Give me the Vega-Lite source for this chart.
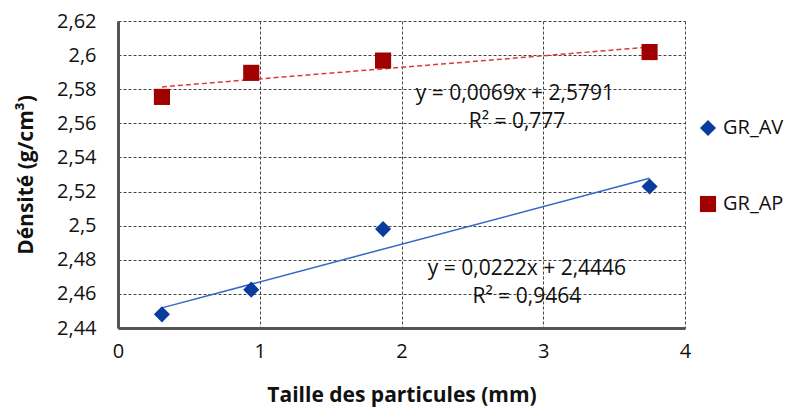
{
  "$schema": "https://vega.github.io/schema/vega-lite/v6.json",
  "width": 567,
  "height": 307,
  "autosize": {"type": "none"},
  "padding": {"left": 118, "top": 21, "right": 113, "bottom": 79},
  "background": "white",
  "config": {
    "view": {"stroke": null},
    "font": "Open Sans",
    "axis": {
      "labelFont": "Open Sans",
      "labelFontSize": 20,
      "labelColor": "#111",
      "labelOverlap": false,
      "labelFlush": false,
      "titleFont": "Open Sans",
      "titleFontSize": 21,
      "titleFontWeight": "bold",
      "titleColor": "#111",
      "grid": true,
      "gridColor": "#444",
      "gridDash": [3, 2],
      "gridWidth": 1,
      "gridOpacity": 1,
      "domainColor": "#555",
      "domainWidth": 3,
      "ticks": false
    }
  },
  "datasets": {
    "pts": [
      {"taille": 0.31, "densite": 2.448, "serie": "GR_AV"},
      {"taille": 0.94, "densite": 2.4625, "serie": "GR_AV"},
      {"taille": 1.87, "densite": 2.498, "serie": "GR_AV"},
      {"taille": 3.75, "densite": 2.523, "serie": "GR_AV"},
      {"taille": 0.31, "densite": 2.5755, "serie": "GR_AP"},
      {"taille": 0.94, "densite": 2.5896, "serie": "GR_AP"},
      {"taille": 1.87, "densite": 2.5968, "serie": "GR_AP"},
      {"taille": 3.75, "densite": 2.6018, "serie": "GR_AP"}
    ],
    "labels": [
      {"tx": 2.8, "ty": 2.5772, "txt": "y = 0,0069x + 2,5791"},
      {"tx": 2.815, "ty": 2.5608, "txt": "R² = 0,777"},
      {"tx": 2.885, "ty": 2.4746, "txt": "y = 0,0222x + 2,4446"},
      {"tx": 2.885, "ty": 2.4582, "txt": "R² = 0,9464"}
    ]
  },
  "layer": [
    {
      "data": {"name": "pts"},
      "transform": [
        {"filter": "datum.serie === 'GR_AV'"},
        {"regression": "densite", "on": "taille", "method": "linear", "extent": [0.31, 3.75]}
      ],
      "mark": {"type": "line", "color": "#3566C8", "strokeWidth": 1.5},
      "encoding": {
        "x": {"field": "taille", "type": "quantitative", "scale": {"domain": [0, 4], "nice": false, "zero": false},
          "axis": {"values": [0, 1, 2, 3, 4], "tickCount": 10, "format": "d", "title": "Taille des particules (mm)", "labelPadding": 13, "titlePadding": 23}},
        "y": {"field": "densite", "type": "quantitative", "scale": {"domain": [2.44, 2.62], "nice": false, "zero": false},
          "axis": {"values": [2.44, 2.46, 2.48, 2.5, 2.52, 2.54, 2.56, 2.58, 2.6, 2.62], "tickCount": 20, "title": "Dénsité (g/cm³)",
            "labelExpr": "replace(format(datum.value, '.2~f'), '.', ',')", "labelPadding": 22, "titlePadding": 20}}
      }
    },
    {
      "data": {"name": "pts"},
      "transform": [
        {"filter": "datum.serie === 'GR_AP'"},
        {"regression": "densite", "on": "taille", "method": "linear", "extent": [0.31, 3.75]}
      ],
      "mark": {"type": "line", "color": "#D93B3B", "strokeWidth": 1.5, "strokeDash": [5, 3]},
      "encoding": {
        "x": {"field": "taille", "type": "quantitative"},
        "y": {"field": "densite", "type": "quantitative"}
      }
    },
    {
      "data": {"name": "pts"},
      "mark": {"type": "point", "filled": true, "opacity": 1, "size": 260},
      "encoding": {
        "x": {"field": "taille", "type": "quantitative"},
        "y": {"field": "densite", "type": "quantitative"},
        "color": {"field": "serie", "type": "nominal", "scale": {"domain": ["GR_AV", "GR_AP"], "range": ["#0A3C9E", "#A00000"]},
          "legend": {"title": null, "orient": "none", "legendX": 580, "legendY": 97, "labelFont": "Open Sans", "labelFontSize": 20, "labelColor": "#111", "rowPadding": 56, "symbolSize": 260, "symbolStrokeWidth": 0, "labelOffset": 5}},
        "shape": {"field": "serie", "type": "nominal", "scale": {"domain": ["GR_AV", "GR_AP"], "range": ["diamond", "square"]}}
      }
    },
    {
      "data": {"name": "labels"},
      "mark": {"type": "text", "font": "Open Sans", "fontSize": 21, "color": "#111", "align": "center", "baseline": "middle"},
      "encoding": {
        "x": {"field": "tx", "type": "quantitative"},
        "y": {"field": "ty", "type": "quantitative"},
        "text": {"field": "txt"}
      }
    }
  ]
}
